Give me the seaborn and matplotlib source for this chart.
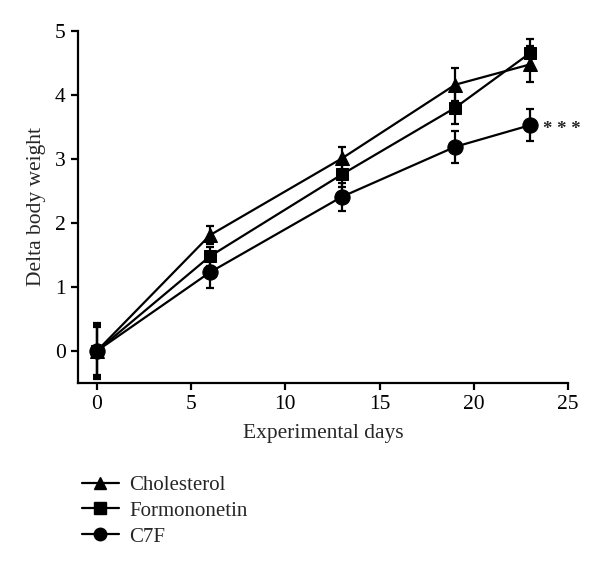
import numpy as np
import pandas as pd
import matplotlib
matplotlib.use("Agg")
import matplotlib.pyplot as plt
from matplotlib.lines import Line2D
import seaborn as sns

# data
days = [0, 6, 13, 19, 23]
groups = ["Cholesterol", "Formononetin", "C7F"]
cholesterol = [0.0, 1.81, 3.01, 4.16, 4.48]
formononetin = [0.0, 1.48, 2.76, 3.80, 4.66]
c7f = [0.0, 1.23, 2.41, 3.19, 3.53]
cholesterol_err = [0.37, 0.14, 0.18, 0.26, 0.28]
formononetin_err = [0.43, 0.15, 0.20, 0.26, 0.22]
c7f_err = [0.40, 0.24, 0.22, 0.25, 0.25]

values = {"Cholesterol": cholesterol, "Formononetin": formononetin, "C7F": c7f}
errors = {"Cholesterol": cholesterol_err, "Formononetin": formononetin_err, "C7F": c7f_err}
markers = {"Cholesterol": "^", "Formononetin": "s", "C7F": "o"}
msize = {"Cholesterol": 10.5, "Formononetin": 9, "C7F": 11}

df = pd.DataFrame({
    "day": days * 3,
    "weight": cholesterol + formononetin + c7f,
    "group": [g for g in groups for _ in days],
})

sns.set_style("ticks")
plt.rcParams["font.family"] = ["Liberation Serif", "DejaVu Serif"]

fig = plt.figure(figsize=(6, 5.73), dpi=100)
ax = fig.add_axes([0.13, 0.3316, 0.817, 0.6143])

# error bars first so markers sit on top
for g in groups:
    ax.errorbar(days, values[g], yerr=errors[g], fmt="none", ecolor="black",
                elinewidth=1.6, capsize=3, capthick=1.6, zorder=2)

for g in groups:
    sub = df[df["group"] == g]
    sns.lineplot(data=sub, x="day", y="weight", ax=ax, color="black",
                 marker=markers[g], markersize=msize[g], markeredgecolor="black",
                 linewidth=1.6, legend=False, zorder=3)

ax.annotate("* * *", xy=(days[-1], c7f[-1]), xytext=(9, -3), textcoords="offset points",
            va="center", ha="left", fontsize=13.5, fontweight="bold")

ax.set_xlim(-1, 25)
ax.set_ylim(-0.5, 5)
ax.set_xticks([0, 5, 10, 15, 20, 25])
ax.set_yticks([0, 1, 2, 3, 4, 5])
ax.tick_params(axis="both", labelsize=15.5, width=1.6, length=5, pad=4,
               color="black", labelcolor="black")
for s in ["left", "bottom"]:
    ax.spines[s].set_linewidth(1.6)
    ax.spines[s].set_color("black")
sns.despine(ax=ax)
ax.set_xlabel("Experimental days", fontsize=15.5, labelpad=7)
ax.set_ylabel("Delta body weight", fontsize=15.5, labelpad=6)

handles = [Line2D([0], [0], color="black", lw=1.6, marker=markers[g], markersize=9)
           for g in groups]
fig.legend(handles, groups, loc="upper left", bbox_to_anchor=(0.123, 0.185),
           frameon=False, fontsize=15, handlelength=1.75, handletextpad=0.5,
           labelspacing=0.3, borderaxespad=0)

fig.savefig("out.png", dpi=100)
